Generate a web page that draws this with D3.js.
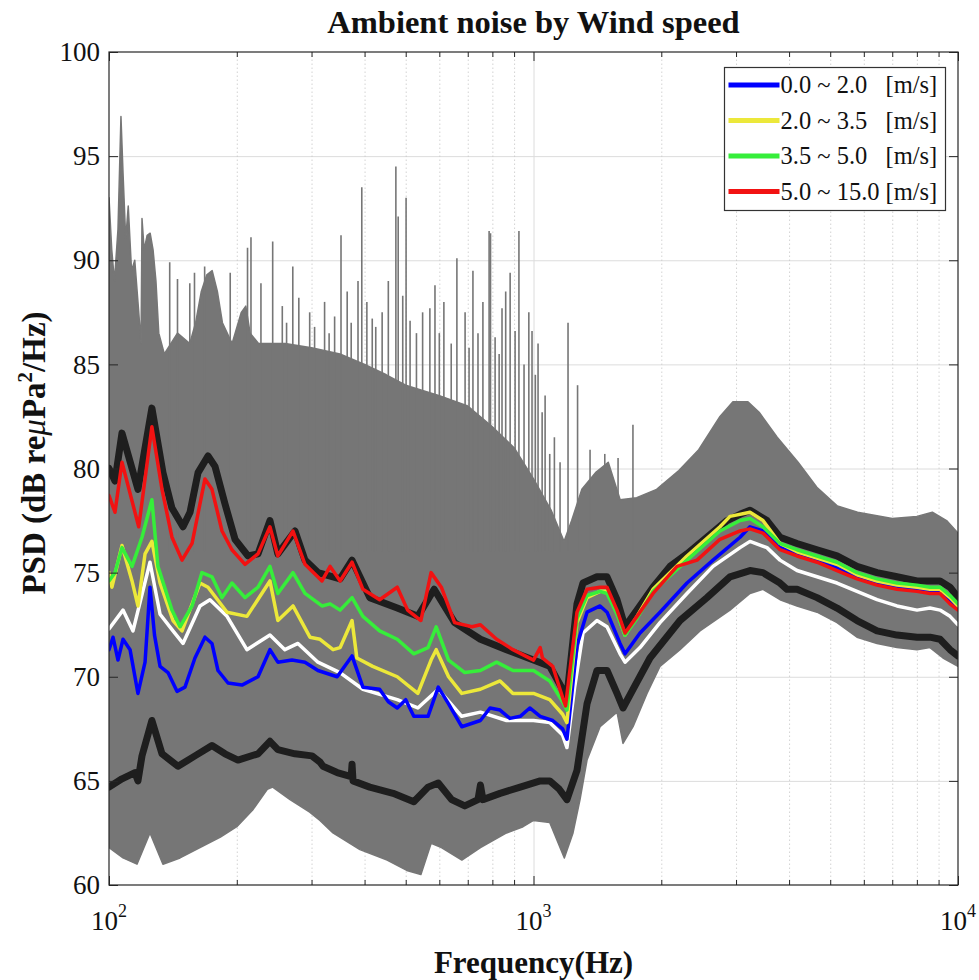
<!DOCTYPE html>
<html>
<head>
<meta charset="utf-8">
<script src="https://cdn.jsdelivr.net/npm/d3@7"></script>
<style>
  body { margin: 0; background: #fff; }
  svg text { font-family: "Liberation Serif", "Times New Roman", serif; fill: #111; }
</style>
</head>
<body>
<div id="chart"></div>
<script>
// -------------------- Data --------------------
const freqMajor = [100, 1000, 10000];
const freqMinor = [200, 300, 400, 500, 600, 700, 800, 900, 2000, 3000, 4000, 5000, 6000, 7000, 8000, 9000];
const dbTicks = [60, 65, 70, 75, 80, 85, 90, 95, 100];
const xExp = [2, 3, 4];

const legendLabels = ["0.0 ~ 2.0", "2.0 ~ 3.5", "3.5 ~ 5.0", "5.0 ~ 15.0"];
const legendColors = ["#0000ff", "#ece83a", "#36ee3a", "#f21212"];

// gray band of all spectra: dense top and bottom edge [Hz, dB]
const envTop = [
  [100, 93.0], [101.5, 90.5], [103, 89.0], [105, 91.5], [106.7, 96.9], [108, 94.0], [109.5, 91.0],
  [111, 92.6], [113, 89.5], [115, 90.0], [117, 88.0], [119, 86.0], [119.6, 92.0], [121, 90.5],
  [123, 91.2], [125, 91.3], [127, 90.5], [129, 89.0], [131, 86.5], [135, 85.5], [145, 86.5],
  [155, 86.0], [160, 87.0], [165, 88.5], [170, 89.3], [175, 89.5], [180, 88.5], [185, 87.0],
  [195, 86.0], [205, 87.5], [210, 87.8], [215, 86.5], [225, 86.0], [260, 86.0], [300, 85.8],
  [350, 85.5], [400, 85.0], [450, 84.5], [500, 84.0], [600, 83.5], [700, 83.0], [800, 82.0],
  [900, 81.0], [1000, 79.5], [1100, 78.0], [1180, 76.5], [1230, 77.5], [1300, 79.0], [1400, 79.8],
  [1500, 80.3], [1600, 78.5], [1750, 78.6], [1950, 79.0], [2200, 79.9], [2450, 80.9], [2750, 82.5],
  [2950, 83.2], [3200, 83.2], [3400, 82.7], [3750, 81.5], [4200, 80.3], [4650, 79.1], [5200, 78.2],
  [5800, 77.9], [7000, 77.6], [8000, 77.7], [8700, 77.9], [9400, 77.5], [10000, 76.9]
];
const envBottom = [
  [100, 61.8], [107.9, 61.3], [116.4, 61.0], [124.9, 62.5], [134, 61.0], [147, 61.3], [163.8, 61.8],
  [183, 62.3], [200, 62.8], [218, 63.6], [236, 64.6], [243, 64.7], [267, 64.1], [297, 63.5],
  [314, 63.1], [337, 62.5], [390, 61.7], [452, 61.2], [503, 60.7], [543, 60.5], [574, 62.0],
  [607, 61.8], [678, 61.2], [750, 61.8], [864, 62.5], [945, 62.8], [1000, 63.1], [1092, 63.0],
  [1182, 61.3], [1239, 62.5], [1287, 64.1], [1337, 66.0], [1435, 67.6], [1573, 68.3], [1625, 66.8],
  [1716, 67.6], [1851, 69.2], [1986, 70.5], [2214, 71.3], [2467, 72.2], [2903, 73.2], [3236, 74.0],
  [3472, 74.2], [3808, 73.7], [4176, 73.4], [4655, 73.1], [5188, 72.6], [5782, 71.9], [6446, 71.6],
  [7182, 71.4], [8006, 71.3], [8590, 71.4], [9219, 70.9], [10000, 70.5]
];
// tall narrow peaks above the band [Hz, dB]
const spikeTops = [
  [139, 89.9], [145, 89.1], [155, 88.9], [159, 89.4], [168, 89.7], [193, 89.4], [212, 90.6],
  [216, 91.1], [228, 88.9], [243, 90.9], [256, 87.8], [262, 87.0], [271, 89.7], [280, 88.2],
  [297, 87.5], [305, 86.8], [322, 88.0], [330, 86.5], [340, 87.3], [352, 91.2], [364, 88.5],
  [372, 87.0], [386, 89.0], [394, 93.5], [405, 88.0], [417, 87.2], [425, 86.8], [440, 87.5],
  [455, 89.0], [474, 94.5], [480, 92.1], [492, 88.3], [501, 93.0], [512, 87.1], [530, 86.5],
  [548, 87.5], [570, 87.7], [586, 88.8], [600, 86.5], [615, 88.0], [640, 86.0], [660, 90.1],
  [690, 87.5], [705, 85.8], [720, 89.5], [740, 86.5], [760, 88.0], [786, 91.4], [792, 91.3],
  [812, 86.3], [830, 85.5], [843, 87.7], [860, 88.5], [881, 89.4], [905, 86.6], [924, 91.4],
  [950, 85.0], [975, 87.5], [992, 86.6], [1010, 84.5], [1025, 86.0], [1048, 82.7], [1065, 83.5],
  [1092, 80.7], [1120, 81.5], [1155, 80.3], [1206, 87.0], [1270, 84.0], [1359, 80.9], [1472, 80.7],
  [1582, 80.5], [1715, 82.1]
];

const blackUpper = [
  [100, 80.0], [103.3, 79.4], [107.3, 81.7], [117, 79.0], [126.2, 82.9], [134, 79.8], [140.7, 78.1],
  [149.4, 77.2], [155.2, 77.9], [162.1, 79.8], [171.1, 80.6], [177.7, 80.1], [187.6, 78.3],
  [198.1, 76.6], [212.5, 75.8], [224.4, 75.9], [239.4, 77.5], [249.9, 75.9], [274.2, 77.0],
  [289.5, 75.6], [310.6, 75.0], [350.3, 74.7], [373.7, 75.6], [411.4, 73.8], [477.6, 73.3],
  [534, 72.9], [583.4, 74.2], [652, 72.6], [749.9, 71.8], [863.8, 71.3], [1000, 70.8], [1092, 70.5],
  [1171, 69.4], [1195, 68.8], [1266, 73.5], [1308, 74.5], [1411, 74.8], [1490, 74.8], [1573, 73.7],
  [1643, 72.4], [1753, 73.2], [1912, 74.3], [2097, 75.3], [2299, 75.9], [2563, 76.7], [2857, 77.5],
  [3066, 77.8], [3236, 78.0], [3548, 77.5], [3808, 76.7], [4176, 76.4], [4655, 76.1], [5188, 75.8],
  [5782, 75.3], [6446, 75.0], [7182, 74.8], [8006, 74.6], [8590, 74.6], [9070, 74.6], [9577, 74.3],
  [10000, 73.8]
];
const blackLower = [
  [100, 64.7], [107.3, 65.1], [115.1, 65.4], [117, 65.0], [119.6, 66.2], [126.2, 67.9], [133.3, 66.3],
  [145.4, 65.7], [159.4, 66.2], [174.8, 66.7], [187.6, 66.3], [201.3, 66.0], [224.4, 66.3],
  [239.4, 66.9], [249.9, 66.5], [274.2, 66.3], [300.6, 66.2], [314.1, 65.9], [319.3, 65.7],
  [344.7, 65.4], [372, 65.2], [373.7, 65.8], [375.7, 65.0], [411.4, 64.7], [466.9, 64.4],
  [522.4, 64.0], [564.3, 64.7], [596.5, 64.9], [641.4, 64.1], [688.9, 63.8], [740, 64.1],
  [749.9, 64.8], [760, 64.1], [834, 64.4], [930.5, 64.7], [1037, 65.0], [1092, 65.0], [1150, 64.6],
  [1199, 64.1], [1266, 65.5], [1337, 68.7], [1411, 70.3], [1490, 70.3], [1573, 69.2], [1625, 68.5],
  [1716, 69.4], [1881, 70.9], [2214, 72.7], [2563, 73.8], [2903, 74.8], [3236, 75.1], [3472, 75.0],
  [3808, 74.5], [3956, 74.2], [4176, 74.2], [4655, 73.8], [5188, 73.3], [5782, 72.7], [6446, 72.2],
  [7182, 72.0], [8006, 71.9], [8590, 71.9], [9070, 71.8], [9577, 71.3], [10000, 71.0]
];
const whiteLine = [
  [100, 72.3], [107.9, 73.2], [113.9, 72.2], [124.9, 75.5], [131.9, 73.0], [141.5, 72.2], [149.4, 71.6],
  [163.8, 73.4], [172.9, 73.7], [189.7, 72.9], [211.3, 71.3], [239.4, 72.0], [259.6, 71.3],
  [278.7, 71.6], [310.6, 70.7], [350, 70.2], [396.4, 69.4], [477.6, 68.9], [534, 68.5], [596.5, 69.4],
  [677.6, 68.1], [749.9, 68.3], [863.8, 67.9], [1000, 67.9], [1092, 67.8], [1171, 67.2], [1199, 66.6],
  [1250, 69.5], [1308, 72.1], [1411, 72.7], [1490, 72.4], [1599, 71.1], [1643, 70.7], [1782, 71.4],
  [1986, 72.6], [2299, 74.0], [2648, 75.3], [3066, 76.2], [3236, 76.5], [3548, 76.2], [3808, 75.6],
  [4176, 75.1], [4655, 74.8], [5188, 74.5], [5782, 74.1], [6446, 73.7], [7182, 73.4], [8006, 73.2],
  [8590, 73.3], [9070, 73.2], [9577, 72.9], [10000, 72.5]
];
const blueLine = [
  [100, 71.3], [102.2, 71.9], [105, 70.8], [107.9, 71.8], [112.1, 71.3], [117, 69.2], [121.6, 70.7],
  [124.9, 74.3], [128, 72.0], [131.9, 70.5], [137.7, 70.2], [144.6, 69.3], [151, 69.5], [159.4, 70.9],
  [168.3, 71.9], [174.8, 71.6], [180.6, 70.3], [190.7, 69.7], [205.7, 69.6], [224.4, 70.0],
  [239.4, 71.3], [249.9, 70.7], [269.8, 70.8], [289.5, 70.7], [310.6, 70.3], [344.7, 70.0],
  [373.7, 71.0], [396.4, 69.5], [434, 69.4], [455, 68.8], [477.6, 68.5], [500, 68.9], [522.4, 68.1],
  [564.3, 68.1], [596.5, 69.5], [630.9, 68.7], [677.6, 67.6], [749.9, 67.9], [790, 68.5], [834, 68.4],
  [880, 68.0], [930.5, 68.1], [980, 68.5], [1037, 68.1], [1110, 67.9], [1171, 67.5], [1199, 67.0],
  [1266, 71.5], [1337, 73.1], [1435, 73.4], [1490, 73.1], [1599, 71.6], [1643, 71.1], [1782, 72.1],
  [1986, 73.1], [2299, 74.5], [2648, 75.6], [3066, 76.7], [3236, 77.2], [3472, 77.0], [3808, 76.2],
  [4176, 75.9], [4655, 75.6], [5188, 75.2], [5782, 74.8], [6446, 74.5], [7182, 74.3], [8006, 74.2],
  [8590, 74.1], [9070, 74.1], [9577, 73.6], [10000, 73.3]
];
const yellowLine = [
  [100, 75.0], [101.6, 74.3], [107.3, 76.3], [113.3, 74.6], [117, 73.4], [121.6, 75.9], [126.2, 76.5],
  [131.9, 74.5], [141.5, 72.7], [148.6, 72.2], [163.8, 74.5], [171.1, 74.3], [189.7, 73.1],
  [211.3, 72.9], [239.4, 74.6], [249.9, 72.7], [271.3, 73.4], [297.4, 71.9], [314.1, 71.8],
  [337.2, 71.3], [350.3, 71.4], [373.7, 72.7], [383.6, 70.9], [418.1, 70.5], [477.6, 70.0],
  [534, 69.2], [573.7, 70.8], [589.9, 71.3], [630.9, 70.0], [677.6, 69.2], [749.9, 69.4],
  [834, 69.8], [894.5, 69.2], [1000, 69.2], [1092, 68.9], [1171, 68.2], [1199, 67.8], [1266, 72.6],
  [1337, 73.8], [1435, 74.1], [1490, 74.1], [1573, 73.1], [1643, 72.0], [1753, 72.9], [1912, 74.2],
  [2299, 75.8], [2750, 77.2], [2903, 77.7], [3236, 77.9], [3472, 77.5], [3808, 76.4], [4176, 76.0],
  [4655, 75.7], [5188, 75.4], [5782, 74.9], [6446, 74.6], [7182, 74.4], [8006, 74.3], [8590, 74.2],
  [9070, 74.2], [9577, 73.8], [10000, 73.4]
];
const greenLine = [
  [100, 74.6], [103.3, 75.0], [107.3, 76.2], [113.3, 75.3], [119.6, 76.7], [126.2, 78.5], [130.4, 75.3],
  [140.7, 73.2], [147, 72.4], [156.9, 73.4], [165.5, 75.0], [174.8, 74.8], [184.6, 73.8], [194.8, 74.5],
  [209.1, 73.8], [224.4, 74.3], [239.4, 75.3], [249.9, 74.0], [271.3, 75.0], [289.5, 74.0],
  [317.5, 73.4], [331.8, 73.5], [350.3, 73.2], [373.7, 73.8], [396.4, 72.9], [434, 72.2], [477.6, 71.8],
  [522.4, 71.1], [564.3, 71.4], [589.9, 72.4], [630.9, 70.8], [688.9, 70.2], [749.9, 70.3],
  [818.7, 70.7], [894.5, 70.3], [1000, 70.3], [1092, 69.8], [1171, 68.8], [1199, 68.4], [1266, 72.8],
  [1337, 73.9], [1435, 74.1], [1490, 74.0], [1573, 73.0], [1643, 72.0], [1753, 72.8], [1912, 74.1],
  [2299, 75.6], [2750, 77.0], [3066, 77.5], [3236, 77.6], [3472, 77.2], [3808, 76.4], [4176, 76.1],
  [4655, 75.8], [5188, 75.5], [5782, 75.0], [6446, 74.7], [7182, 74.5], [8006, 74.4], [8590, 74.3],
  [9070, 74.3], [9577, 73.9], [10000, 73.5]
];
const redLine = [
  [100, 78.7], [103.3, 77.9], [107.3, 80.3], [117.5, 77.2], [126.2, 82.0], [133.3, 79.0], [140.7, 76.7],
  [148.6, 75.6], [156.9, 76.4], [168.3, 79.5], [174.8, 79.0], [184.6, 77.0], [194.8, 76.1],
  [209.1, 75.4], [224.4, 75.9], [239.4, 77.2], [249.9, 75.8], [271.3, 77.0], [289.5, 75.4],
  [317.5, 74.6], [331.8, 75.3], [350.3, 74.6], [373.7, 75.5], [396.4, 74.2], [434, 73.7], [477.6, 74.3],
  [505.2, 73.2], [542.9, 72.7], [573.7, 75.0], [606.6, 74.3], [652, 72.6], [716, 72.4], [749.9, 72.5],
  [818.7, 71.8], [894.5, 71.3], [1000, 70.8], [1037, 71.4], [1050, 70.9], [1110, 70.5], [1171, 69.0],
  [1190, 68.6], [1266, 73.1], [1337, 74.2], [1435, 74.3], [1490, 74.3], [1573, 73.2], [1643, 72.1],
  [1753, 72.9], [1912, 74.0], [2178, 75.3], [2428, 75.6], [2750, 76.6], [3066, 77.0], [3236, 77.1],
  [3472, 76.9], [3808, 76.1], [4176, 75.8], [4655, 75.5], [5188, 75.1], [5782, 74.7], [6446, 74.4],
  [7182, 74.2], [8006, 74.1], [8590, 74.0], [9070, 74.0], [9577, 73.5], [10000, 73.2]
];

// -------------------- Layout --------------------
const W = 979, H = 980;
const margin = { left: 109, right: 21, top: 52, bottom: 95 };
const plotW = W - margin.left - margin.right;
const plotH = H - margin.top - margin.bottom;

const x = d3.scaleLog().domain([100, 10000]).range([0, plotW]);
const y = d3.scaleLinear().domain([60, 100]).range([plotH, 0]);

const svg = d3.select("#chart").append("svg")
  .attr("width", W).attr("height", H);

svg.append("defs").append("clipPath").attr("id", "plotclip")
  .append("rect").attr("width", plotW).attr("height", plotH);

const g = svg.append("g").attr("transform", `translate(${margin.left},${margin.top})`);

// -------------------- Grid --------------------
g.append("g").attr("class", "grid-y")
  .call(d3.axisLeft(y).tickValues(dbTicks.slice(1, -1)).tickSize(-plotW).tickFormat(""))
  .call(s => s.select(".domain").remove())
  .call(s => s.selectAll("line").attr("stroke", "#dcdcdc").attr("stroke-width", 1));

g.append("g").attr("class", "grid-x-minor")
  .attr("transform", `translate(0,${plotH})`)
  .call(d3.axisBottom(x).tickValues(freqMinor).tickSize(-plotH).tickFormat(""))
  .call(s => s.select(".domain").remove())
  .call(s => s.selectAll("line").attr("stroke", "#c8c8c8").attr("stroke-width", 0.8)
    .attr("stroke-dasharray", "1.5,2.5"));

g.append("g").attr("class", "grid-x-major")
  .attr("transform", `translate(0,${plotH})`)
  .call(d3.axisBottom(x).tickValues([1000]).tickSize(-plotH).tickFormat(""))
  .call(s => s.select(".domain").remove())
  .call(s => s.selectAll("line").attr("stroke", "#dcdcdc").attr("stroke-width", 1));

// -------------------- Gray band --------------------
const plot = g.append("g").attr("clip-path", "url(#plotclip)");
const line = d3.line().x(d => x(d[0])).y(d => y(d[1]));
const bandColor = "#767676";

plot.append("path")
  .attr("d", line(envTop.concat(envBottom.slice().reverse())) + "Z")
  .attr("fill", bandColor)
  .attr("stroke", bandColor)
  .attr("stroke-width", 1.5)
  .attr("stroke-linejoin", "round");

plot.append("g").selectAll("line")
  .data(spikeTops)
  .join("line")
  .attr("x1", d => x(d[0])).attr("x2", d => x(d[0]))
  .attr("y1", d => y(d[1])).attr("y2", y(76))
  .attr("stroke", bandColor)
  .attr("stroke-width", 1.6);

// -------------------- Curves --------------------
const curves = [
  { data: blackLower, color: "#1e1e1e", width: 7 },
  { data: blackUpper, color: "#1e1e1e", width: 7 },
  { data: whiteLine, color: "#ffffff", width: 3.5 },
  { data: blueLine, color: legendColors[0], width: 3.5 },
  { data: yellowLine, color: legendColors[1], width: 3.5 },
  { data: greenLine, color: legendColors[2], width: 3.5 },
  { data: redLine, color: legendColors[3], width: 3.5 }
];

plot.append("g").selectAll("path")
  .data(curves)
  .join("path")
  .attr("d", d => line(d.data))
  .attr("fill", "none")
  .attr("stroke", d => d.color)
  .attr("stroke-width", d => d.width)
  .attr("stroke-linejoin", "round")
  .attr("stroke-linecap", "round");

// -------------------- Axes box & ticks --------------------
const axisColor = "#262626";
function styleAxis(s) {
  s.select(".domain").remove();
  s.selectAll("line").attr("stroke", axisColor);
}

// bottom / top ticks (pointing inwards)
g.append("g").attr("transform", `translate(0,${plotH})`)
  .call(d3.axisBottom(x).tickValues(freqMajor).tickSize(-9).tickFormat("")).call(styleAxis);
g.append("g").attr("transform", `translate(0,${plotH})`)
  .call(d3.axisBottom(x).tickValues(freqMinor).tickSize(-5).tickFormat("")).call(styleAxis);
g.append("g")
  .call(d3.axisTop(x).tickValues(freqMajor).tickSize(-9).tickFormat("")).call(styleAxis);
g.append("g")
  .call(d3.axisTop(x).tickValues(freqMinor).tickSize(-5).tickFormat("")).call(styleAxis);

// left axis with labels, right ticks
g.append("g")
  .call(d3.axisLeft(y).tickValues(dbTicks).tickSizeInner(-9).tickSizeOuter(0).tickPadding(9))
  .call(styleAxis)
  .call(s => s.selectAll("text")
    .attr("font-family", "Liberation Serif, serif")
    .attr("font-size", 27).attr("fill", "#111"));
g.append("g").attr("transform", `translate(${plotW},0)`)
  .call(d3.axisRight(y).tickValues(dbTicks).tickSize(-9).tickFormat("")).call(styleAxis);

g.append("rect")
  .attr("width", plotW).attr("height", plotH)
  .attr("fill", "none").attr("stroke", axisColor).attr("stroke-width", 1.2);

// x tick labels as powers of ten
const xl = g.append("g").selectAll("text")
  .data(freqMajor)
  .join("text")
  .attr("x", d => x(d))
  .attr("y", plotH + 45)
  .attr("text-anchor", "middle")
  .attr("font-size", 27);
xl.append("tspan").text("10");
xl.append("tspan").attr("dy", -13).attr("font-size", 18).text((d, i) => xExp[i]);

// -------------------- Titles --------------------
svg.append("text")
  .attr("x", margin.left + plotW / 2).attr("y", 33)
  .attr("text-anchor", "middle")
  .attr("font-weight", "bold").attr("font-size", 32.5)
  .text("Ambient noise by Wind speed");

svg.append("text")
  .attr("x", margin.left + plotW / 2).attr("y", 973)
  .attr("text-anchor", "middle")
  .attr("font-weight", "bold").attr("font-size", 31)
  .text("Frequency(Hz)");

const yTitle = svg.append("text")
  .attr("transform", "translate(45,453) rotate(-90)")
  .attr("text-anchor", "middle")
  .attr("font-weight", "bold").attr("font-size", 33);
yTitle.append("tspan").text("PSD (dB re");
yTitle.append("tspan").attr("font-style", "italic").attr("font-weight", "normal").text("\u03bc");
yTitle.append("tspan").text("Pa");
yTitle.append("tspan").attr("dy", -13).attr("font-size", 21).text("2");
yTitle.append("tspan").attr("dy", 13).text("/Hz)");

// -------------------- Legend --------------------
const lg = svg.append("g").attr("transform", "translate(724.5,67.5)");
lg.append("rect")
  .attr("width", 221).attr("height", 143)
  .attr("fill", "#fff").attr("stroke", "#333").attr("stroke-width", 1.2);

const rows = lg.selectAll("g.row")
  .data(legendLabels)
  .join("g")
  .attr("class", "row")
  .attr("transform", (d, i) => `translate(0,${17.5 + i * 35.5})`);
rows.append("line")
  .attr("x1", 4).attr("x2", 55)
  .attr("stroke", (d, i) => legendColors[i])
  .attr("stroke-width", 5);
rows.append("text")
  .attr("x", 56).attr("y", 8)
  .attr("font-size", 24.5)
  .text(d => d);
rows.append("text")
  .attr("x", 161).attr("y", 8)
  .attr("font-size", 24.5)
  .text("[m/s]");
</script>
</body>
</html>
